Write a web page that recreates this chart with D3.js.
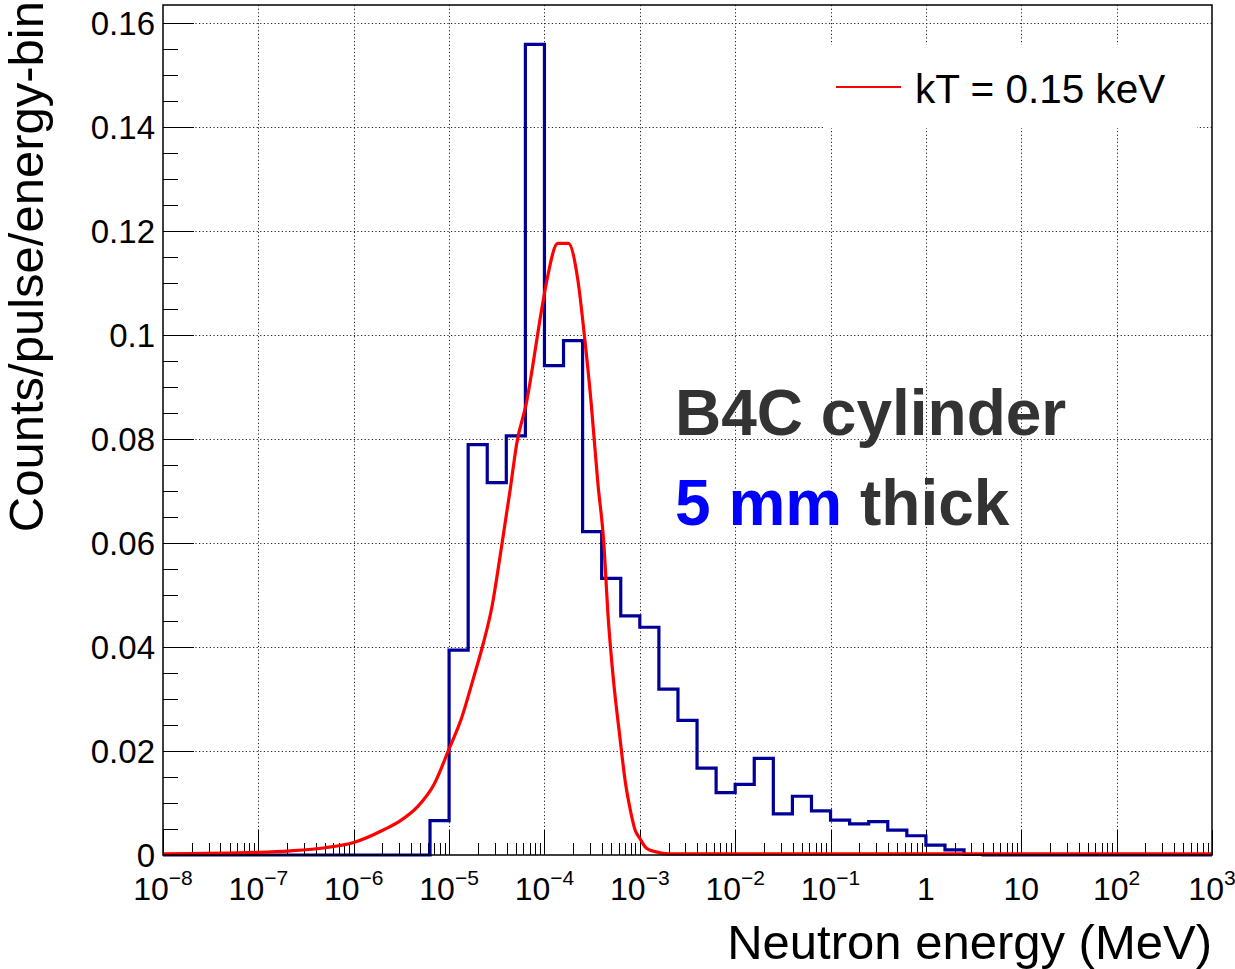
<!DOCTYPE html>
<html>
<head>
<meta charset="utf-8">
<script src="https://cdn.jsdelivr.net/npm/d3@7"></script>
<style>
  body { margin: 0; background: #fff; }
  svg { display: block; font-family: "Liberation Sans", Arial, sans-serif; }
</style>
</head>
<body>
<svg id="chart" width="1235" height="969"></svg>
<script>
// histogram: 5 log bins per decade from 1e-8 to 1e3 MeV
var binLogStart = -8;
var binsPerDecade = 5;
var binCounts = [
  0, 0, 0, 0, 0, 0, 0, 0, 0, 0,
  0, 0, 0, 0, 0.0066, 0.0394, 0.0789, 0.0716, 0.0806, 0.1559,
  0.0941, 0.0989, 0.0622, 0.0532, 0.0460, 0.0438, 0.0319, 0.0259, 0.0167, 0.0120,
  0.0136, 0.0186, 0.0079, 0.0113, 0.0085, 0.0067, 0.0060, 0.0064, 0.0048, 0.0037,
  0.0019, 0.0010, 0.0001, 0, 0, 0, 0, 0, 0, 0,
  0, 0, 0, 0, 0
];

// fitted Maxwellian, kT = 0.15 keV
var fitLogE = [
  -8, -7, -6.66, -6.3, -6, -5.69, -5.51, -5.33, -5.16, -5.0, -4.87,
  -4.74, -4.65, -4.55, -4.45, -4.36, -4.29, -4.19, -4.03, -3.98, -3.86,
  -3.75, -3.65, -3.58, -3.51, -3.44, -3.38, -3.33, -3.28, -3.21, -3.15,
  -3.10, -3.05, -3.00, -2.93, -2.83, -2.70, 3
];
var fitValue = [
  0.0002, 0.0005, 0.0008, 0.0014, 0.0024, 0.0048, 0.0066, 0.0093, 0.0135, 0.0204, 0.0263,
  0.0343, 0.0401, 0.0478, 0.0593, 0.0702, 0.0792, 0.0869, 0.1048, 0.1100, 0.1176,
  0.1176, 0.1106, 0.0997, 0.0869, 0.0715, 0.0606, 0.0452, 0.0343, 0.0228, 0.0138,
  0.0087, 0.0048, 0.0032, 0.0013, 0.0006, 0.0002, 0.0002
];

var xTickExps = [-8, -7, -6, -5, -4, -3, -2, -1, 0, 1, 2, 3];
var yTicks = [0, 0.02, 0.04, 0.06, 0.08, 0.1, 0.12, 0.14, 0.16];
var yTickLabels = ['0', '0.02', '0.04', '0.06', '0.08', '0.1', '0.12', '0.14', '0.16'];
var yMax = 0.16346;

var legendText = 'kT = 0.15 keV';

var margin = { left: 163, right: 23, top: 5, bottom: 114 };
var width = 1235 - margin.left - margin.right;
var height = 969 - margin.top - margin.bottom;

var svg = d3.select('#chart');
var g = svg.append('g').attr('transform', 'translate(' + margin.left + ',' + margin.top + ')');

var x = d3.scaleLog().domain([1e-8, 1e3]).range([0, width]);
var y = d3.scaleLinear().domain([0, yMax]).range([height, 0]);

// grid
var grid = g.append('g')
  .attr('stroke', '#222')
  .attr('stroke-width', 1)
  .attr('stroke-dasharray', '1.2,2.4');

grid.selectAll('.vgrid')
  .data(xTickExps.slice(1, -1))
  .enter()
  .append('line')
  .attr('x1', function(d) { return Math.round(x(Math.pow(10, d))) + 0.5; })
  .attr('x2', function(d) { return Math.round(x(Math.pow(10, d))) + 0.5; })
  .attr('y1', 0)
  .attr('y2', height);

grid.selectAll('.hgrid')
  .data(yTicks.slice(1))
  .enter()
  .append('line')
  .attr('x1', 0)
  .attr('x2', width)
  .attr('y1', function(d) { return Math.round(y(d)) + 0.5; })
  .attr('y2', function(d) { return Math.round(y(d)) + 0.5; });

// legend box hides grid behind it
g.append('rect')
  .attr('x', 660)
  .attr('y', 40)
  .attr('width', 374)
  .attr('height', 83)
  .attr('fill', '#fff');

// ticks
var ticks = g.append('g').attr('stroke', '#000').attr('stroke-width', 1);

var minorY = d3.range(0, yMax, 0.005).filter(function(v) {
  return Math.abs(v / 0.02 - Math.round(v / 0.02)) > 1e-6;
});
ticks.selectAll('.ymin')
  .data(minorY)
  .enter()
  .append('line')
  .attr('x1', 0).attr('x2', 15)
  .attr('y1', function(d) { return Math.round(y(d)) + 0.5; })
  .attr('y2', function(d) { return Math.round(y(d)) + 0.5; });

ticks.selectAll('.ymaj')
  .data(yTicks)
  .enter()
  .append('line')
  .attr('x1', 0).attr('x2', 31)
  .attr('y1', function(d) { return Math.round(y(d)) + 0.5; })
  .attr('y2', function(d) { return Math.round(y(d)) + 0.5; });

var minorX = [];
xTickExps.slice(0, -1).forEach(function(e) {
  for (var m = 2; m <= 9; m++) minorX.push(m * Math.pow(10, e));
});
ticks.selectAll('.xmin')
  .data(minorX)
  .enter()
  .append('line')
  .attr('x1', function(d) { return Math.round(x(d)) + 0.5; })
  .attr('x2', function(d) { return Math.round(x(d)) + 0.5; })
  .attr('y1', height).attr('y2', height - 12);

ticks.selectAll('.xmaj')
  .data(xTickExps)
  .enter()
  .append('line')
  .attr('x1', function(d) { return Math.round(x(Math.pow(10, d))) + 0.5; })
  .attr('x2', function(d) { return Math.round(x(Math.pow(10, d))) + 0.5; })
  .attr('y1', height).attr('y2', height - 25);

// histogram outline
var histPts = [[Math.pow(10, binLogStart), 0]];
binCounts.forEach(function(c, i) {
  var lo = Math.pow(10, binLogStart + i / binsPerDecade);
  var hi = Math.pow(10, binLogStart + (i + 1) / binsPerDecade);
  histPts.push([lo, c]);
  histPts.push([hi, c]);
});

var line = d3.line()
  .x(function(d) { return x(d[0]); })
  .y(function(d) { return y(d[1]); });

g.append('path')
  .datum(histPts)
  .attr('fill', 'none')
  .attr('stroke', '#000099')
  .attr('stroke-width', 3.2)
  .attr('stroke-linejoin', 'miter')
  .attr('d', line);

// fit curve
var fitLine = d3.line()
  .curve(d3.curveMonotoneX)
  .x(function(d) { return x(d[0]); })
  .y(function(d) { return y(d[1]); });

var fitPts = fitLogE.map(function(le, i) { return [Math.pow(10, le), fitValue[i]]; });
g.append('path')
  .datum(fitPts)
  .attr('fill', 'none')
  .attr('stroke', '#ff0000')
  .attr('stroke-width', 3.2)
  .attr('stroke-linejoin', 'round')
  .attr('d', fitLine);

// frame
g.append('rect')
  .attr('x', 0).attr('y', 0)
  .attr('width', width).attr('height', height)
  .attr('fill', 'none')
  .attr('stroke', '#000')
  .attr('stroke-width', 1.5);

// y labels
g.selectAll('.ylab')
  .data(yTicks)
  .enter()
  .append('text')
  .attr('x', -8)
  .attr('y', function(d) { return y(d); })
  .attr('dy', '0.36em')
  .attr('text-anchor', 'end')
  .attr('font-size', 33)
  .text(function(d, i) { return yTickLabels[i]; });

// x labels
var xl = g.selectAll('.xlab')
  .data(xTickExps)
  .enter()
  .append('text')
  .attr('x', function(d) { return x(Math.pow(10, d)); })
  .attr('y', height + 45)
  .attr('text-anchor', 'middle')
  .attr('font-size', 32);

xl.each(function(d) {
  var t = d3.select(this);
  if (d === 0) { t.text('1'); return; }
  if (d === 1) { t.text('10'); return; }
  t.append('tspan').text('10');
  t.append('tspan')
    .attr('font-size', 21)
    .attr('dy', -15)
    .text(d < 0 ? '\u2212' + (-d) : String(d));
});

// axis titles
g.append('text')
  .attr('x', width)
  .attr('y', height + 104)
  .attr('text-anchor', 'end')
  .attr('font-size', 49)
  .text('Neutron energy (MeV)');

svg.append('text')
  .attr('transform', 'translate(43,1) rotate(-90)')
  .attr('text-anchor', 'end')
  .attr('font-size', 49)
  .text('Counts/pulse/energy-bin');

// legend
g.append('line')
  .attr('x1', 673).attr('x2', 738)
  .attr('y1', 82).attr('y2', 82)
  .attr('stroke', '#ff0000')
  .attr('stroke-width', 2);

g.append('text')
  .attr('x', 752)
  .attr('y', 98)
  .attr('font-size', 40.5)
  .text(legendText);

// annotations
g.append('text')
  .attr('x', 512)
  .attr('y', 430)
  .attr('font-size', 64)
  .attr('font-weight', 'bold')
  .attr('fill', '#333333')
  .text('B4C cylinder');

var t2 = g.append('text')
  .attr('x', 512)
  .attr('y', 520)
  .attr('font-size', 64)
  .attr('font-weight', 'bold')
  .attr('fill', '#333333');
t2.append('tspan').attr('fill', '#0000ff').text('5 mm');
t2.append('tspan').text(' thick');
</script>
</body>
</html>
